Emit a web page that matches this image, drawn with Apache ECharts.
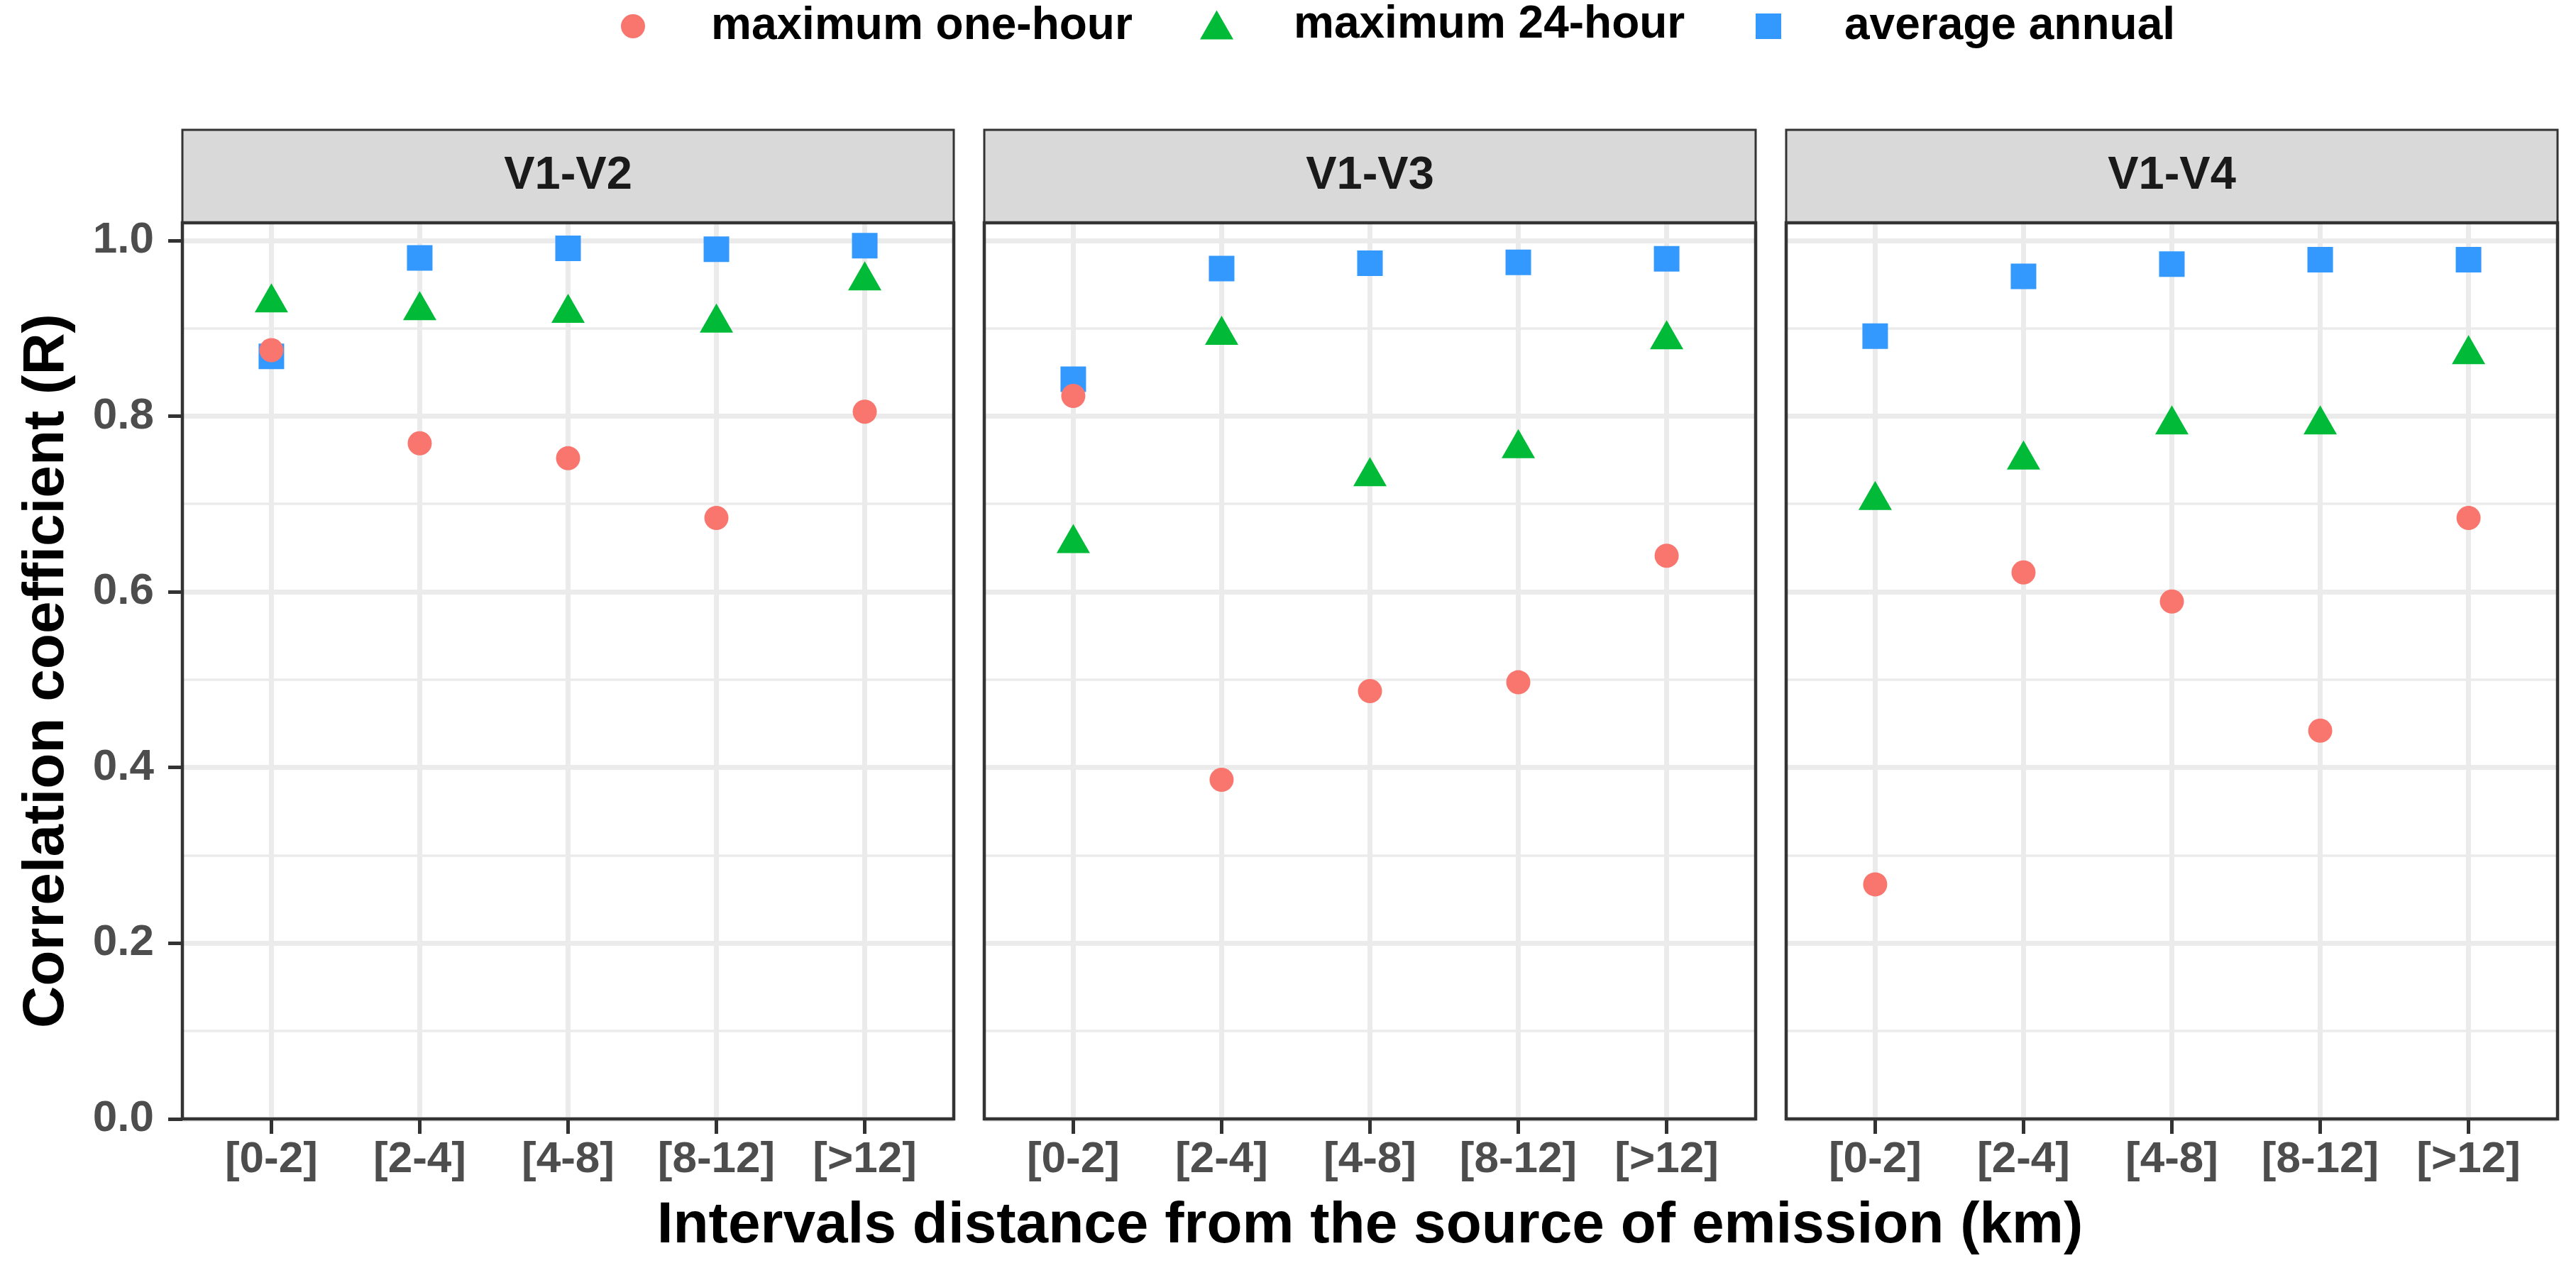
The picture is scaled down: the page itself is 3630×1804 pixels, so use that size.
<!DOCTYPE html>
<html>
<head>
<meta charset="utf-8">
<script src="https://cdn.jsdelivr.net/npm/echarts@6/dist/echarts.min.js"></script>
<style>html,body{margin:0;padding:0;background:#fff;}#chart{width:3630px;height:1804px;}</style>
</head>
<body>
<div id="chart"></div>
<script>
// ---- data ----
const categories = ['[0-2]', '[2-4]', '[4-8]', '[8-12]', '[>12]'];
const panels = ['V1-V2', 'V1-V3', 'V1-V4'];
const seriesNames = ['maximum one-hour', 'maximum 24-hour', 'average annual'];

const oneHour_V1V2 = [0.875, 0.769, 0.752, 0.684, 0.805];
const oneHour_V1V3 = [0.823, 0.386, 0.487, 0.497, 0.641];
const oneHour_V1V4 = [0.267, 0.622, 0.589, 0.442, 0.684];

const day24_V1V2 = [0.929, 0.920, 0.917, 0.906, 0.954];
const day24_V1V3 = [0.655, 0.892, 0.731, 0.763, 0.887];
const day24_V1V4 = [0.704, 0.750, 0.790, 0.790, 0.870];

const annual_V1V2 = [0.868, 0.980, 0.991, 0.990, 0.994];
const annual_V1V3 = [0.842, 0.968, 0.974, 0.975, 0.979];
const annual_V1V4 = [0.891, 0.959, 0.973, 0.978, 0.978];

const yTicks = [0, 0.2, 0.4, 0.6, 0.8, 1.0];

// ---- layout / style ----
const FONT = '"Liberation Sans", Arial, Helvetica, sans-serif';
const COLORS = { 'maximum one-hour': '#F8766D', 'maximum 24-hour': '#00BA38', 'average annual': '#3399FF' };
const PANEL_LEFT0 = 257, PANEL_STEP = 1130, PANEL_W = 1087;
const PANEL_TOP = 314, PANEL_H = 1263;
const STRIP_TOP = 183;
const xPos = categories.map((c, i) => i + 1);

const panelData = [
  { oneHour: oneHour_V1V2, day24: day24_V1V2, annual: annual_V1V2 },
  { oneHour: oneHour_V1V3, day24: day24_V1V3, annual: annual_V1V3 },
  { oneHour: oneHour_V1V4, day24: day24_V1V4, annual: annual_V1V4 }
];

const grids = [], xAxes = [], yAxes = [], series = [], graphics = [];

panels.forEach((p, k) => {
  const left = PANEL_LEFT0 + k * PANEL_STEP;
  grids.push({ left: left, top: PANEL_TOP, width: PANEL_W, height: PANEL_H, containLabel: false, outerBoundsMode: 'none' });

  xAxes.push({
    gridIndex: k, type: 'value', min: 0.4, max: 5.6, position: 'bottom',
    axisLine: { show: false },
    axisTick: { show: true, customValues: xPos, length: 21, lineStyle: { color: '#333333', width: 5 } },
    axisLabel: { show: true, customValues: xPos, margin: 27, fontFamily: FONT, fontSize: 62, fontWeight: 'bold', color: '#4D4D4D',
      formatter: v => categories[Math.round(v) - 1] },
    splitLine: { show: true, lineStyle: { color: '#EBEBEB', width: 7 } },
    name: k === 1 ? 'Intervals distance from the source of emission (km)' : '',
    nameLocation: 'middle', nameGap: 110,
    nameTextStyle: { fontFamily: FONT, fontSize: 82, fontWeight: 'bold', color: '#000000' }
  });

  // minor grid lines (0.1 step)
  yAxes.push({
    gridIndex: k, type: 'value', min: 0, max: 1.02, interval: 0.1, position: 'left',
    axisLine: { show: false }, axisTick: { show: false }, axisLabel: { show: false },
    splitLine: { show: true, lineStyle: { color: '#EBEBEB', width: 3.5 } }
  });
  // major grid lines, ticks, labels
  yAxes.push({
    gridIndex: k, type: 'value', min: 0, max: 1.02, interval: 0.2, position: 'left',
    axisLine: { show: false },
    axisTick: { show: k === 0, customValues: yTicks, length: 20, lineStyle: { color: '#333333', width: 5 } },
    axisLabel: { show: k === 0, customValues: yTicks, margin: 40, fontFamily: FONT, fontSize: 62, fontWeight: 'bold', color: '#4D4D4D',
      formatter: v => v.toFixed(1) },
    splitLine: { show: true, lineStyle: { color: '#EBEBEB', width: 7 } },
    name: k === 0 ? 'Correlation coefficient (R)' : '',
    nameLocation: 'middle', nameGap: 150, nameRotate: 90,
    nameTextStyle: { fontFamily: FONT, fontSize: 82, fontWeight: 'bold', color: '#000000' }
  });

  const d = panelData[k];
  const mk = arr => arr.map((v, i) => [xPos[i], v]);
  series.push({
    name: 'average annual', type: 'scatter', xAxisIndex: k, yAxisIndex: 2 * k + 1,
    symbol: 'rect', symbolSize: 36, itemStyle: { color: COLORS['average annual'], opacity: 1 },
    data: mk(d.annual), z: 3
  });
  series.push({
    name: 'maximum 24-hour', type: 'scatter', xAxisIndex: k, yAxisIndex: 2 * k + 1,
    symbol: 'triangle', symbolSize: [47, 41], symbolOffset: [0, -7], itemStyle: { color: COLORS['maximum 24-hour'], opacity: 1 },
    data: mk(d.day24), z: 4
  });
  series.push({
    name: 'maximum one-hour', type: 'scatter', xAxisIndex: k, yAxisIndex: 2 * k + 1,
    symbol: 'circle', symbolSize: 34, itemStyle: { color: COLORS['maximum one-hour'], opacity: 1 },
    data: mk(d.oneHour), z: 5
  });

  // strip + panel border
  graphics.push({
    type: 'rect', z: 100,
    shape: { x: left, y: STRIP_TOP, width: PANEL_W, height: PANEL_TOP - STRIP_TOP },
    style: { fill: '#D9D9D9', stroke: '#333333', lineWidth: 3 }
  });
  graphics.push({
    type: 'text', z: 101, x: left + PANEL_W / 2, y: (STRIP_TOP + PANEL_TOP) / 2,
    style: { text: p, fill: '#1A1A1A', font: 'bold 65px ' + FONT, textAlign: 'center', textVerticalAlign: 'middle' }
  });
  graphics.push({
    type: 'rect', z: 100,
    shape: { x: left, y: PANEL_TOP, width: PANEL_W, height: PANEL_H },
    style: { fill: 'none', stroke: '#333333', lineWidth: 4.5 }
  });
});

const legendCommon = {
  orient: 'horizontal', padding: 0, selectedMode: false,
  textStyle: { fontFamily: FONT, fontSize: 64, fontWeight: 'bold', color: '#000000' }
};
const legends = [
  Object.assign({}, legendCommon, { left: 875, top: 5, itemWidth: 34, itemHeight: 34,
    data: [{ name: 'maximum one-hour', icon: 'circle' }],
    textStyle: Object.assign({}, legendCommon.textStyle, { padding: [0, 0, 0, 88] }) }),
  Object.assign({}, legendCommon, { left: 1691, top: 3, itemWidth: 47, itemHeight: 41,
    data: [{ name: 'maximum 24-hour', icon: 'triangle' }],
    textStyle: Object.assign({}, legendCommon.textStyle, { padding: [0, 0, 0, 80] }) }),
  Object.assign({}, legendCommon, { left: 2474, top: 5, itemWidth: 36, itemHeight: 36,
    data: [{ name: 'average annual', icon: 'rect' }],
    textStyle: Object.assign({}, legendCommon.textStyle, { padding: [0, 0, 0, 84] }) })
];

const chart = echarts.init(document.getElementById('chart'), null, { renderer: 'canvas' });
chart.setOption({
  backgroundColor: '#FFFFFF',
  animation: false,
  legend: legends,
  grid: grids,
  xAxis: xAxes,
  yAxis: yAxes,
  series: series,
  graphic: graphics
});
</script>
</body>
</html>
